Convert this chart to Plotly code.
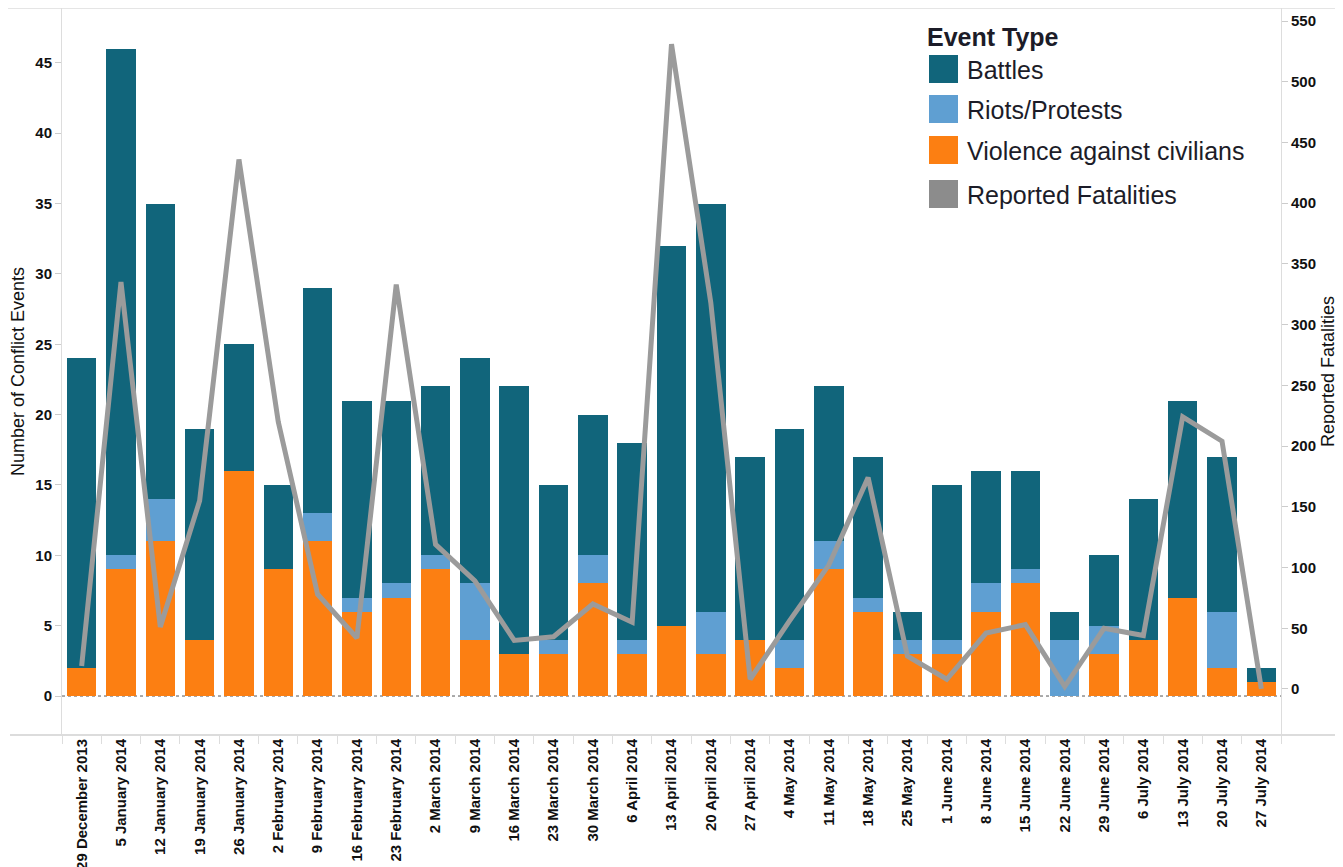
import plotly.graph_objects as go

weeks = [
    "29 December 2013", "5 January 2014", "12 January 2014", "19 January 2014",
    "26 January 2014", "2 February 2014", "9 February 2014", "16 February 2014",
    "23 February 2014", "2 March 2014", "9 March 2014", "16 March 2014",
    "23 March 2014", "30 March 2014", "6 April 2014", "13 April 2014",
    "20 April 2014", "27 April 2014", "4 May 2014", "11 May 2014",
    "18 May 2014", "25 May 2014", "1 June 2014", "8 June 2014",
    "15 June 2014", "22 June 2014", "29 June 2014", "6 July 2014",
    "13 July 2014", "20 July 2014", "27 July 2014",
]

violence = [2, 9, 11, 4, 16, 9, 11, 6, 7, 9, 4, 3, 3, 8, 3, 5,
            3, 4, 2, 9, 6, 3, 3, 6, 8, 0, 3, 4, 7, 2, 1]
riots = [0, 1, 3, 0, 0, 0, 2, 1, 1, 1, 4, 0, 1, 2, 1, 0,
         3, 0, 2, 2, 1, 1, 1, 2, 1, 4, 2, 0, 0, 4, 0]
battles = [22, 36, 21, 15, 9, 6, 16, 14, 13, 12, 16, 19, 11, 10, 14, 27,
           29, 13, 15, 11, 10, 2, 11, 8, 7, 2, 5, 10, 14, 11, 1]
fatalities = [19, 335, 51, 155, 436, 220, 78, 42, 333, 119, 89, 40, 43, 70, 55, 531,
              318, 8, 56, 102, 174, 27, 8, 46, 53, 2, 50, 44, 224, 204, 0]

legend_names = ["Battles", "Riots/Protests", "Violence against civilians", "Reported Fatalities"]
legend_colors = ["#11657b", "#5f9fd2", "#fc7f12", "#8c8c8c"]

C_BATTLE, C_RIOT, C_VIOL = "#11657b", "#5f9fd2", "#fc7f12"
LINE_GRAY = "#9b9b9b"
FONT = "Liberation Sans, Arial, sans-serif"

# page has an 8px body margin, so the figure is drawn 8px in from the corner
OFF = 8
FIG_W, FIG_H = 1343 - OFF, 867 - OFF
# plot area in page pixels: x 62..1281, y 8..735
L, R, T, B = 62, 1281, 8, 735
W, H = R - L, B - T

fig = go.Figure()
fig.add_trace(go.Bar(x=weeks, y=violence, name="Violence against civilians",
                     marker=dict(color=C_VIOL, line=dict(width=0))))
fig.add_trace(go.Bar(x=weeks, y=riots, name="Riots/Protests",
                     marker=dict(color=C_RIOT, line=dict(width=0))))
fig.add_trace(go.Bar(x=weeks, y=battles, name="Battles",
                     marker=dict(color=C_BATTLE, line=dict(width=0))))
fig.add_trace(go.Scatter(x=weeks, y=fatalities, name="Reported Fatalities", yaxis="y2",
                         mode="lines", line=dict(color=LINE_GRAY, width=5)))


def px(x):
    return (x - L) / W


def py(y):
    return (B - y) / H


shapes = [
    dict(type="line", xref="paper", yref="y", x0=0, x1=1, y0=0, y1=0,
         line=dict(color="#555555", width=1, dash="dot"), layer="below"),
    dict(type="line", xref="paper", yref="paper", x0=px(OFF), x1=px(1343), y0=1, y1=1,
         line=dict(color="#dcdcdc", width=1.5)),
    dict(type="line", xref="paper", yref="paper", x0=px(10), x1=px(1343), y0=0, y1=0,
         line=dict(color="#dcdcdc", width=2)),
]

annotations = [dict(text="<b>Event Type</b>", xref="paper", yref="paper",
                    x=px(925), y=py(37), xanchor="left", yanchor="middle",
                    showarrow=False, font=dict(family=FONT, size=25, color="#1c1c28"))]

sw_top = [55, 95, 136, 180]
for i, (name, col) in enumerate(zip(legend_names, legend_colors)):
    y0 = sw_top[i]
    shapes.append(dict(type="rect", xref="paper", yref="paper",
                       x0=px(929), x1=px(958), y0=py(y0 + 28), y1=py(y0),
                       fillcolor=col, line=dict(width=0)))
    annotations.append(dict(text=name, xref="paper", yref="paper",
                            x=px(965), y=py(y0 + 15), xanchor="left", yanchor="middle",
                            showarrow=False,
                            font=dict(family=FONT, size=25, color="#1c1c28")))

fig.update_layout(
    width=FIG_W, height=FIG_H,
    margin=dict(l=L - OFF, r=1343 - R, t=T - OFF, b=867 - B, autoexpand=False),
    paper_bgcolor="white", plot_bgcolor="white",
    barmode="stack", bargap=0.25,
    showlegend=False,
    font=dict(family=FONT, size=13, color="#111111"),
    xaxis=dict(
        type="category", tickangle=-90,
        tickfont=dict(family=FONT, size=15, color="#111111", weight="bold"),
        ticks="outside", tickson="boundaries", ticklen=8, tickcolor="#dddddd",
        showgrid=False, showline=False, zeroline=False, automargin=False,
    ),
    yaxis=dict(
        range=[-2.77, 48.9], tickvals=list(range(0, 50, 5)),
        tickfont=dict(family=FONT, size=15, color="#111111", weight="bold"),
        ticks="outside", ticklen=6, tickcolor="#cccccc",
        showgrid=False, zeroline=False, showline=True, linecolor="#dddddd", linewidth=1,
        title=dict(text="Number of Conflict Events", standoff=8,
                   font=dict(family=FONT, size=18, color="#111111")),
        automargin=False,
    ),
    yaxis2=dict(
        overlaying="y", side="right",
        range=[-37.9, 560.7], tickvals=list(range(0, 600, 50)),
        tickfont=dict(family=FONT, size=15, color="#111111", weight="bold"),
        ticks="outside", ticklen=6, tickcolor="#cccccc",
        showgrid=False, zeroline=False, showline=True, linecolor="#dddddd", linewidth=1,
        title=dict(text="Reported Fatalities", standoff=6,
                   font=dict(family=FONT, size=18, color="#111111")),
        automargin=False,
    ),
    shapes=shapes,
    annotations=annotations,
)

fig.write_html("out.html")
